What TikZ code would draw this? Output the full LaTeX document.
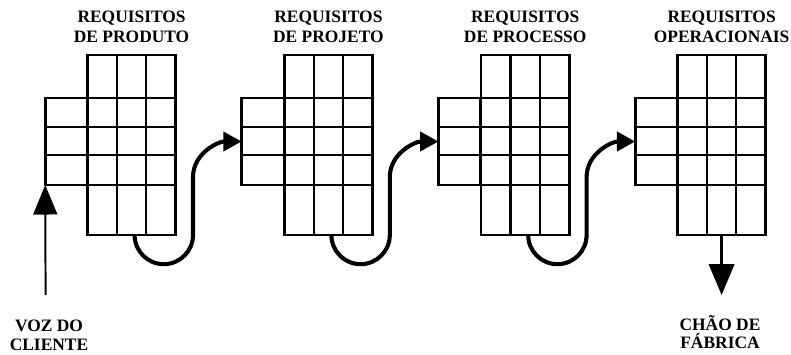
\documentclass[tikz,border=0pt]{standalone}
\usepackage{fontspec}
\setmainfont{Liberation Serif}
\usepackage{tikz}
\usetikzlibrary{calc,positioning,arrows.meta}

\begin{document}
\begin{tikzpicture}[
  bigbox/.style={rectangle, draw, line width=2.1pt, inner sep=0pt, outer sep=0pt,
    minimum width=2.21cm, minimum height=4.5cm},
  sidebox/.style={rectangle, draw, line width=2.1pt, inner sep=0pt, outer sep=0pt,
    minimum width=1.06cm, minimum height=2.175cm},
  gridline/.style={draw, line width=1.6pt},
  reqlabel/.style={font=\bfseries\fontsize{12.4}{14.5}\selectfont, align=center, inner sep=0pt},
  endlabel/.style={font=\bfseries\fontsize{12.4}{13}\selectfont, align=center, inner sep=0pt},
  flow/.style={draw, line width=2.9pt, -{Triangle[length=13pt, width=13.5pt]}},
]
  \useasboundingbox (0,0) rectangle (19.775,8.875);

  % === the four matrices ===
  \node[bigbox]  (up1)   at (3.29,5.25)  {};
  \node[sidebox] (side1) at (1.66,5.3375) {};
  \node[bigbox]  (up2)   at (8.21,5.25)  {};
  \node[sidebox] (side2) at (6.57,5.3375) {};
  \node[bigbox]  (up3)   at (13.13,5.25) {};
  \node[sidebox] (side3) at (11.49,5.3375) {};
  \node[bigbox]  (up4)   at (18.04,5.25) {};
  \node[sidebox] (side4) at (16.41,5.3375) {};

  % === grid lines ===
  \foreach \i in {1,...,4} {
    \draw[gridline] ($(up\i.south west)!1/3!(up\i.south east)$) -- ($(up\i.north west)!1/3!(up\i.north east)$);
    \draw[gridline] ($(up\i.south west)!2/3!(up\i.south east)$) -- ($(up\i.north west)!2/3!(up\i.north east)$);
    \foreach \y in {4.25,5.0,5.7,6.425}
      \draw[gridline] (side\i.west |- 0,\y) -- (up\i.east |- 0,\y);
  }

  % === labels ===
  \node[reqlabel, above=0.3cm of up1] {REQUISITOS\\DE PRODUTO};
  \node[reqlabel, above=0.3cm of up2] {REQUISITOS\\DE PROJETO};
  \node[reqlabel, above=0.3cm of up3] {REQUISITOS\\DE PROCESSO};
  \node[reqlabel, above=0.3cm of up4] {REQUISITOS\\OPERACIONAIS};

  % === flow between matrices ===
  \foreach \i/\j in {1/2,2/3,3/4}
    \draw[flow] ([xshift=0.075cm]up\i.south) arc[start angle=180, end angle=360, radius=0.73cm]
      -- ++(0,1.45) to[out=90, in=180] (side\j.west);

  % === customer in, shop floor out ===
  \node[endlabel, anchor=north] (voz)  at (1.225,0.875) {VOZ DO\\CLIENTE};
  \node[endlabel, anchor=north] (chao) at (18.0,1.0) {CHÃO DE\\FÁBRICA};
  \coordinate (vozin)  at (1.14,1.5);
  \coordinate (chaoout) at (18.04,1.5);
  \draw[line width=1.4pt, -{Triangle[length=21pt, width=17pt]}] (vozin) -- (side1.south west);
  \draw[line width=2.1pt, -{Triangle[length=22pt, width=18pt]}] (up4.south) -- (chaoout);

\end{tikzpicture}
\end{document}
